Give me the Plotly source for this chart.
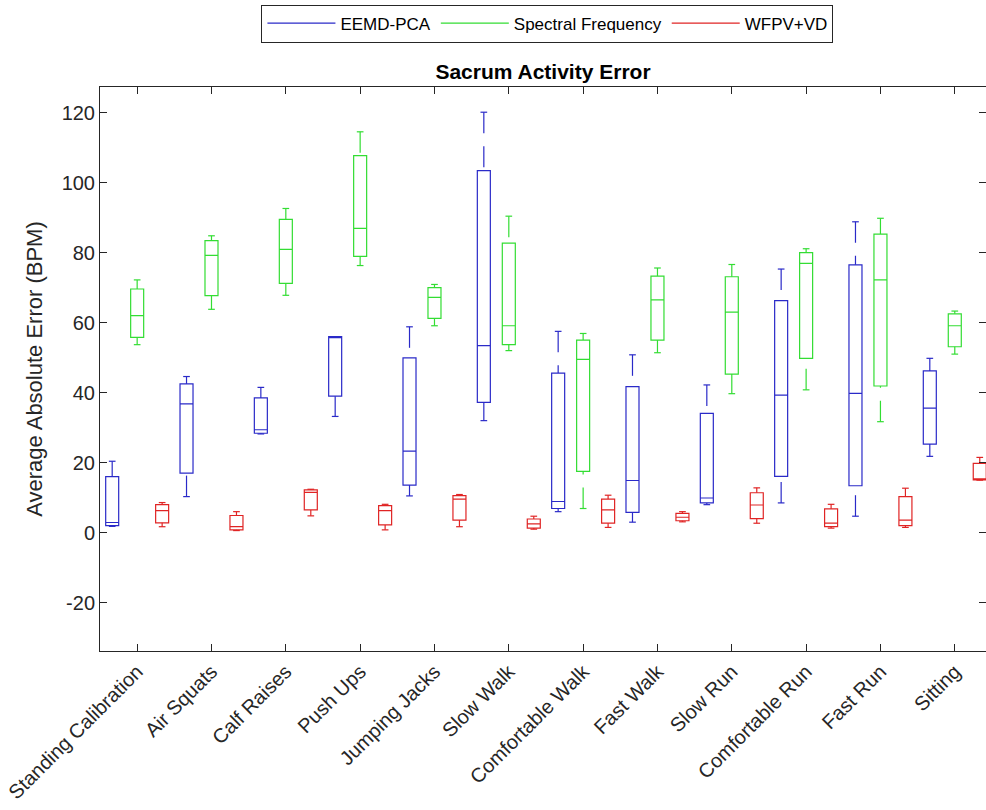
import numpy as np
import plotly.graph_objects as go

categories = ["Standing Calibration", "Air Squats", "Calf Raises", "Push Ups", "Jumping Jacks",
              "Slow Walk", "Comfortable Walk", "Fast Walk", "Slow Run", "Comfortable Run",
              "Fast Run", "Sitting"]

y_tick_vals = [-20, 0, 20, 40, 60, 80, 100, 120]
y_tick_text = ["-20", "0", "20", "40", "60", "80", "100", "120"]

# EEMD-PCA
eemd_min = [1.8, 10.3, 28.2, 33.2, 10.5, 32.0, 6.0, 3.0, 8.0, 8.5, 4.7, 21.8]
eemd_q1 = [2.0, 17.0, 28.4, 39.0, 13.6, 37.2, 6.9, 5.8, 8.5, 16.1, 13.4, 25.3]
eemd_med = [2.9, 36.8, 29.4, 56.0, 23.3, 53.4, 8.9, 14.9, 9.9, 39.3, 39.8, 35.6]
eemd_q3 = [16.0, 42.5, 38.5, 56.0, 49.9, 103.4, 45.6, 41.7, 34.1, 66.3, 76.5, 46.2]
eemd_max = [20.4, 44.6, 41.5, 56.0, 58.8, 120.1, 57.5, 50.8, 42.2, 75.3, 88.8, 49.8]

# Spectral Frequency
spec_min = [53.7, 63.8, 67.8, 76.3, 59.1, 52.0, 6.9, 51.4, 39.7, 40.8, 31.7, 51.0]
spec_q1 = [55.8, 67.7, 71.2, 78.9, 61.2, 53.7, 17.5, 55.0, 45.3, 49.8, 41.9, 53.1]
spec_med = [62.0, 79.2, 80.9, 86.9, 67.2, 59.1, 49.5, 66.5, 63.0, 76.9, 72.2, 59.1]
spec_q3 = [69.6, 83.4, 89.5, 107.7, 70.0, 82.7, 55.0, 73.3, 73.1, 80.0, 85.3, 62.5]
spec_max = [72.2, 84.8, 92.6, 114.5, 70.9, 90.4, 56.9, 75.6, 76.6, 81.1, 89.8, 63.3]

# WFPV+VD
wfpv_min = [1.7, 0.6, 4.8, 0.8, 1.7, 1.0, 1.5, 3.1, 2.7, 1.3, 1.5, 15.0]
wfpv_q1 = [2.8, 0.8, 6.5, 2.2, 3.6, 1.3, 2.7, 3.4, 4.0, 1.7, 2.0, 15.1]
wfpv_med = [6.3, 1.7, 11.5, 6.3, 9.6, 2.5, 6.5, 4.4, 7.9, 2.7, 3.6, 15.1]
wfpv_q3 = [8.0, 4.9, 12.2, 7.7, 10.6, 3.9, 9.6, 5.5, 11.4, 6.8, 10.3, 19.8]
wfpv_max = [8.6, 6.0, 12.4, 8.1, 10.9, 4.7, 10.7, 6.0, 12.8, 8.1, 12.7, 21.5]

series = [
    ("EEMD-PCA", "#2a2ac8", -0.336, eemd_min, eemd_q1, eemd_med, eemd_q3, eemd_max),
    ("Spectral Frequency", "#33dd33", 0.0, spec_min, spec_q1, spec_med, spec_q3, spec_max),
    ("WFPV+VD", "#e02424", 0.336, wfpv_min, wfpv_q1, wfpv_med, wfpv_q3, wfpv_max),
]

font_family = "Liberation Sans, Arial, Helvetica, sans-serif"
pos = np.arange(1, len(categories) + 1)
BOX_W = 0.175
CAP_HALF = 0.045
LW = 1.2

fig = go.Figure()
for name, color, off, mn, q1, md, q3, mx in series:
    xs = pos + off
    # box body (whiskers drawn separately as dashed lines)
    fig.add_trace(go.Box(
        x=xs, q1=q1, median=md, q3=q3, lowerfence=q1, upperfence=q3,
        width=BOX_W, whiskerwidth=0, boxpoints=False,
        line=dict(color=color, width=LW), fillcolor="rgba(0,0,0,0)",
        showlegend=False, hoverinfo="skip", name=name,
    ))
    # dashed whiskers, drawn from the cap toward the box
    wx, wy = [], []
    for x, a, b, c, d in zip(xs, mn, q1, q3, mx):
        wx += [x, x, None, x, x, None]
        wy += [d, c, None, a, b, None]
    fig.add_trace(go.Scatter(
        x=wx, y=wy, mode="lines", line=dict(color=color, width=LW, dash="21px,13px"),
        showlegend=False, hoverinfo="skip",
    ))
    # caps
    cx, cy = [], []
    for x, a, d in zip(xs, mn, mx):
        cx += [x - CAP_HALF, x + CAP_HALF, None, x - CAP_HALF, x + CAP_HALF, None]
        cy += [d, d, None, a, a, None]
    fig.add_trace(go.Scatter(
        x=cx, y=cy, mode="lines", line=dict(color=color, width=LW),
        showlegend=False, hoverinfo="skip",
    ))

for name, color, *_ in series:
    fig.add_trace(go.Scatter(
        x=[None], y=[None], mode="lines", name=name,
        line=dict(color=color, width=LW), showlegend=True,
    ))

axis_color = "#262626"
fig.update_layout(
    width=986, height=810,
    margin=dict(l=100, r=0, t=87, b=159),
    paper_bgcolor="white", plot_bgcolor="white",
    font=dict(family=font_family, color="#262626", size=19),
    title=dict(text="<b>Sacrum Activity Error</b>", x=0.5, xref="paper",
               y=0.911, yref="container", xanchor="center", yanchor="middle",
               font=dict(size=21, color="black")),
    legend=dict(orientation="h", x=0.505, xanchor="center", y=1.146, yanchor="top",
                xref="paper", yref="paper",
                bordercolor="#262626", borderwidth=1, bgcolor="white",
                font=dict(size=17, color="black"), itemwidth=68,
                tracegroupgap=0),
    showlegend=True,
    boxmode="overlay",
)
fig.update_xaxes(
    range=[0.5, 12.42], tickmode="array", tickvals=pos, ticktext=categories,
    tickangle=-45, ticks="inside", ticklen=7, tickcolor=axis_color,
    showline=True, linecolor=axis_color, linewidth=1, mirror="ticks",
    showgrid=False, zeroline=False, tickfont=dict(size=20, color="#262626"),
)
fig.update_yaxes(
    range=[-33.8, 127.3], tickmode="array", tickvals=y_tick_vals, ticktext=y_tick_text,
    ticks="inside", ticklen=7, tickcolor=axis_color,
    showline=True, linecolor=axis_color, linewidth=1, mirror="ticks",
    showgrid=False, zeroline=False, tickfont=dict(size=20, color="#262626"),
    title=dict(text="Average Absolute Error (BPM)", font=dict(size=22, color="#262626"), standoff=12),
)

fig.write_html("out.html")
